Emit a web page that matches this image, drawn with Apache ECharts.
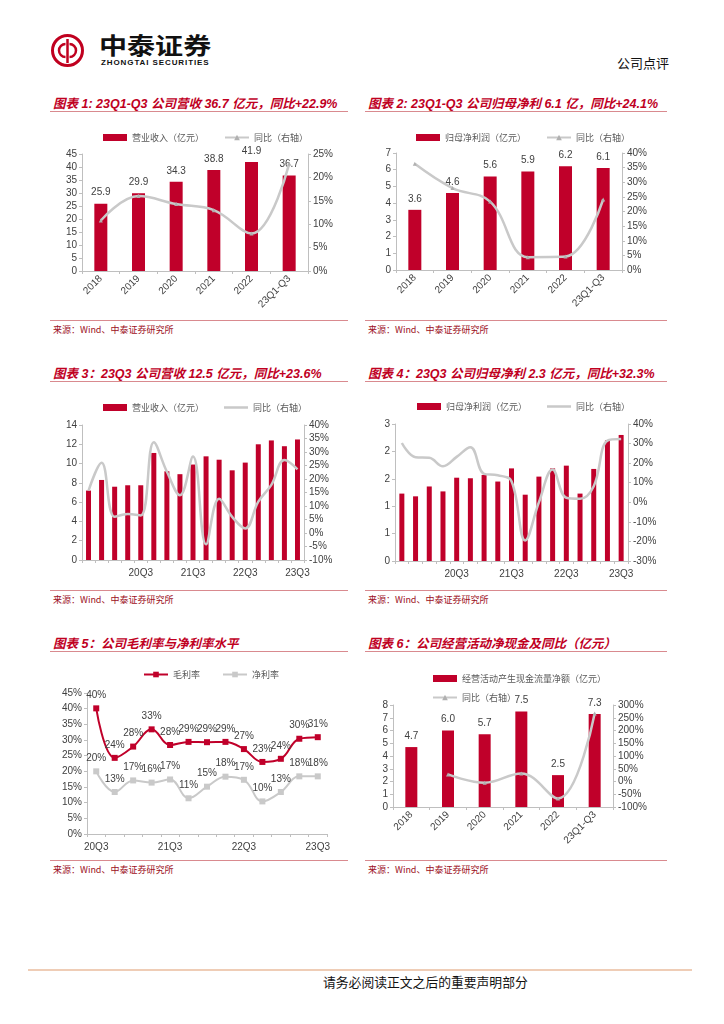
<!DOCTYPE html>
<html><head><meta charset="utf-8">
<script src="https://cdn.jsdelivr.net/npm/echarts@6/dist/echarts.min.js"></script>
<style>
body{margin:0;background:#fff;}
#page{position:relative;width:724px;height:1024px;overflow:hidden;font-family:"Liberation Sans","Noto Sans CJK SC",sans-serif;}
.abs{position:absolute;}
.title{position:absolute;font-weight:bold;font-style:italic;color:#c0001f;font-size:12.5px;white-space:nowrap;font-family:"Liberation Sans","Noto Sans CJK SC",sans-serif;}
.uline{position:absolute;height:1px;background:#d98a8f;}
.src{position:absolute;font-size:9px;color:#9c0f1d;white-space:nowrap;font-family:"Noto Sans CJK SC","Liberation Sans",sans-serif;}
.chart{position:absolute;}
</style></head>
<body><div id="page">
<svg class="abs" style="left:50px;top:33px" width="36" height="36" viewBox="0 0 36 36">
 <circle cx="17.5" cy="17.5" r="15" fill="none" stroke="#c0001f" stroke-width="3"/>
 <line x1="17.5" y1="6" x2="17.5" y2="30" stroke="#c0001f" stroke-width="2.5"/>
 <path d="M15.5 11 A6.5 6.5 0 1 0 15.5 24" fill="none" stroke="#c0001f" stroke-width="2.5"/>
 <path d="M19.5 11 A6.5 6.5 0 1 1 19.5 24" fill="none" stroke="#c0001f" stroke-width="2.5"/>
</svg>
<div class="abs" style="left:99px;top:27px;font-size:23px;font-weight:bold;color:#111;font-family:'Noto Sans CJK SC';white-space:nowrap;transform:scaleX(1.22);transform-origin:left top">中泰证券</div>
<div class="abs" style="left:101px;top:58px;font-size:8px;font-weight:bold;color:#111;letter-spacing:0.9px;white-space:nowrap;font-family:'Liberation Sans'">ZHONGTAI SECURITIES</div>
<div class="abs" style="left:617px;top:53px;font-size:13px;color:#111;font-family:'Noto Sans CJK SC';white-space:nowrap">公司点评</div>

<div class="title" style="left:53px;top:93px">图表 1: 23Q1-Q3 公司营收 36.7 亿元，同比+22.9%</div>
<div class="uline" style="left:50px;top:111px;width:298px"></div>
<div class="title" style="left:368px;top:93px">图表 2: 23Q1-Q3 公司归母净利 6.1 亿，同比+24.1%</div>
<div class="uline" style="left:365px;top:111px;width:302px"></div>
<div class="uline" style="left:50px;top:320px;width:298px"></div>
<div class="src" style="left:53px;top:323px">来源：Wind、中泰证券研究所</div>
<div class="uline" style="left:365px;top:320px;width:302px"></div>
<div class="src" style="left:368px;top:323px">来源：Wind、中泰证券研究所</div>

<div class="title" style="left:53px;top:363px">图表 3：23Q3 公司营收 12.5 亿元，同比+23.6%</div>
<div class="uline" style="left:50px;top:381px;width:298px"></div>
<div class="title" style="left:368px;top:363px">图表 4：23Q3 公司归母净利 2.3 亿元，同比+32.3%</div>
<div class="uline" style="left:365px;top:381px;width:302px"></div>
<div class="uline" style="left:50px;top:590px;width:298px"></div>
<div class="src" style="left:53px;top:593px">来源：Wind、中泰证券研究所</div>
<div class="uline" style="left:365px;top:590px;width:302px"></div>
<div class="src" style="left:368px;top:593px">来源：Wind、中泰证券研究所</div>

<div class="title" style="left:53px;top:633px">图表 5：公司毛利率与净利率水平</div>
<div class="uline" style="left:50px;top:651px;width:298px"></div>
<div class="title" style="left:368px;top:633px">图表 6：公司经营活动净现金及同比（亿元）</div>
<div class="uline" style="left:365px;top:651px;width:302px"></div>
<div class="uline" style="left:50px;top:860px;width:298px"></div>
<div class="src" style="left:53px;top:863px">来源：Wind、中泰证券研究所</div>
<div class="uline" style="left:365px;top:860px;width:302px"></div>
<div class="src" style="left:368px;top:863px">来源：Wind、中泰证券研究所</div>

<div class="abs" style="left:28px;top:969px;width:664px;height:2px;background:#efcdb6"></div>
<div class="abs" style="left:323px;top:972px;font-size:12.8px;color:#111;font-family:'Noto Sans CJK SC';white-space:nowrap">请务必阅读正文之后的重要声明部分</div>

<div id="c1" class="chart" style="left:50px;top:115px;width:300px;height:200px"></div>
<div id="c2" class="chart" style="left:365px;top:115px;width:302px;height:200px"></div>
<div id="c3" class="chart" style="left:50px;top:385px;width:300px;height:205px"></div>
<div id="c4" class="chart" style="left:365px;top:385px;width:302px;height:205px"></div>
<div id="c5" class="chart" style="left:50px;top:655px;width:300px;height:205px"></div>
<div id="c6" class="chart" style="left:365px;top:655px;width:302px;height:205px"></div>
</div>
<script>
// ---- data ----
const yearCats = ['2018','2019','2020','2021','2022','23Q1-Q3'];
const revenue = [25.9, 29.9, 34.3, 38.8, 41.9, 36.7];
const revenueYoy = [10.8, 16.0, 14.3, 13.0, 8.0, 22.9];
const netProfit = [3.6, 4.6, 5.6, 5.9, 6.2, 6.1];
const netProfitYoy = [36.3, 28.0, 23.4, 4.4, 4.6, 24.1];

const quarterCats = ['19Q3','19Q4','20Q1','20Q2','20Q3','20Q4','21Q1','21Q2','21Q3','21Q4','22Q1','22Q2','22Q3','22Q4','23Q1','23Q2','23Q3'];
const qRevenue = [7.2, 8.3, 7.6, 7.75, 7.75, 11.1, 9.2, 8.9, 9.9, 10.75, 10.4, 9.3, 10.1, 12.0, 12.4, 11.8, 12.5];
const qRevenueYoy = [15.7, 26.0, 6.0, 7.0, 6.5, 33.6, 22.7, 14.0, 28.3, -4.2, 12.7, 6.0, 1.7, 11.6, 17.8, 27.0, 23.6];
const qProfit = [1.23, 1.18, 1.36, 1.27, 1.52, 1.51, 1.57, 1.45, 1.69, 1.21, 1.54, 1.69, 1.74, 1.23, 1.68, 2.20, 2.30];
const qProfitYoy = [30.3, 23.0, 22.7, 18.4, 23.2, 28.1, 14.5, 13.8, 10.8, -19.5, 0.0, 16.7, 2.3, 1.8, 8.2, 31.5, 32.3];

const marginCats = ['20Q3','20Q4','21Q1','21Q2','21Q3','21Q4','22Q1','22Q2','22Q3','22Q4','23Q1','23Q2','23Q3'];
const grossMargin = [40.1, 24.3, 27.9, 33.4, 28.4, 29.4, 29.3, 29.4, 27.1, 23.0, 24.0, 30.4, 30.9];
const netMargin = [20.0, 13.4, 17.1, 16.4, 17.4, 11.4, 15.1, 18.3, 17.3, 10.4, 13.4, 18.4, 18.4];

const cashFlow = [4.7, 6.0, 5.7, 7.5, 2.5, 7.3];
const cashFlowYoy = [null, 27.7, -5.0, 31.6, -66.7, 267];

// ---- style helpers ----
const RED = '#c0002a', GREY = '#c9c9c9', TXT = '#404040';
const FONT = 'Liberation Sans, Noto Sans CJK SC, sans-serif';
const LFONT = 'Noto Sans CJK SC, sans-serif';
const LINE_ICON = 'path://M0,0H24V0.05H0Z M0,2.3H24V4.7H0Z M0,6.95H24V7H0Z';
const axLine = {show:true, lineStyle:{color:'#bfbfbf', width:1}};
const axTick = {show:true, length:3, lineStyle:{color:'#bfbfbf'}};
const axLbl = (extra) => Object.assign({color:TXT, fontSize:10, fontFamily:FONT}, extra||{});
const legendText = {color:'#595959', fontSize:9, fontFamily:LFONT};

function catAxis(data, lblExtra, tickExtra){
  return {type:'category', data:data, boundaryGap:true, axisLine:axLine,
    axisTick:Object.assign({}, axTick, tickExtra||{}), axisLabel:axLbl(lblExtra), splitLine:{show:false}};
}
function valAxis(min,max,interval,fmt,pos){
  return {type:'value', min:min, max:max, interval:interval, position:pos||'left',
    axisLine:axLine, axisTick:axTick, splitLine:{show:false},
    axisLabel:axLbl({formatter:fmt, margin:5})};
}
const pct = v => v + '%';

function barSeries(name, data, width, withLabel){
  return {name:name, type:'bar', data:data, barWidth:width, itemStyle:{color:RED},
    label:{show:!!withLabel, position:'top', color:TXT, fontSize:10, fontFamily:FONT, distance:6,
      formatter:p => p.value.toFixed(1)}};
}
function yoySeries(name, data, symbol){
  return {name:name, type:'line', yAxisIndex:1, data:data, smooth:0.4, connectNulls:false,
    symbol:symbol||'none', symbolSize:4, lineStyle:{color:GREY, width:2.5},
    itemStyle:{color:'#b0b0b0'}, z:5};
}
function legend(names, left, top, extra){
  return Object.assign({left:left, top:top, itemWidth:24, itemHeight:7, itemGap:20,
    textStyle:legendText, data:names}, extra||{});
}

// ---- chart 1 ----
const c1 = echarts.init(document.getElementById('c1'));
c1.setOption({animation:false,
  legend: legend([{name:'营业收入（亿元）', icon:'rect'}, {name:'同比（右轴）'}], 48, 13),
  grid:{left:32, top:39, width:226, height:117},
  xAxis: catAxis(yearCats, {rotate:45, margin:6}),
  yAxis: [valAxis(0,45,5), valAxis(0,25,5,pct,'right')],
  series:[barSeries('营业收入（亿元）', revenue, 13, true), yoySeries('同比（右轴）', revenueYoy, 'triangle')]
});

// ---- chart 2 ----
const c2 = echarts.init(document.getElementById('c2'));
c2.setOption({animation:false,
  legend: legend([{name:'归母净利润（亿元）', icon:'rect'}, {name:'同比（右轴）'}], 46, 13),
  grid:{left:31, top:38, width:226, height:117},
  xAxis: catAxis(yearCats, {rotate:45, margin:6}),
  yAxis: [valAxis(0,7,1), valAxis(0,40,5,pct,'right')],
  series:[barSeries('归母净利润（亿元）', netProfit, 13, true), yoySeries('同比（右轴）', netProfitYoy, 'triangle')]
});

// ---- chart 3 ----
const qShow = (i) => i >= 4 && (i - 4) % 4 === 0;
const c3 = echarts.init(document.getElementById('c3'));
c3.setOption({animation:false,
  legend: legend([{name:'营业收入（亿元）', icon:'rect'}, {name:'同比（右轴）', icon:LINE_ICON, itemStyle:{color:GREY}}], 48, 13),
  grid:{left:32, top:40, width:222, height:135},
  xAxis: catAxis(quarterCats, {interval:qShow, margin:8}, {interval:0}),
  yAxis: [valAxis(0,14,2), valAxis(-10,40,5,pct,'right')],
  series:[barSeries('营业收入（亿元）', qRevenue, 5, false), yoySeries('同比（右轴）', qRevenueYoy, 'none')]
});

// ---- chart 4 ----
const c4 = echarts.init(document.getElementById('c4'));
c4.setOption({animation:false,
  legend: legend([{name:'归母净利润（亿元）', icon:'rect'}, {name:'同比（右轴）', icon:LINE_ICON, itemStyle:{color:GREY}}], 47, 12),
  grid:{left:30, top:39, width:233, height:137},
  xAxis: catAxis(quarterCats, {interval:qShow, margin:8}, {interval:0}),
  yAxis: [valAxis(0,2.5,0.5,v=>String(Math.round(v))), valAxis(-30,40,10,pct,'right')],
  series:[barSeries('归母净利润（亿元）', qProfit, 5, false), yoySeries('同比（右轴）', qProfitYoy, 'none')]
});

// ---- chart 5 ----
const mShow = (i) => i % 4 === 0;
const c5 = echarts.init(document.getElementById('c5'));
const mLabel = {show:true, position:'top', distance:5, color:TXT, fontSize:10, fontFamily:FONT,
  formatter:p => Math.round(p.value) + '%'};
c5.setOption({animation:false,
  legend: legend(['毛利率','净利率'], 88, 10, {itemGap:22}),
  grid:{left:37, top:38, width:240, height:141},
  xAxis: catAxis(marginCats, {interval:mShow, margin:8}, {interval:0}),
  yAxis: valAxis(0,45,5,pct),
  series:[
    {name:'毛利率', type:'line', data:grossMargin, smooth:0.4, symbol:'rect', symbolSize:6,
      lineStyle:{color:RED, width:2}, itemStyle:{color:RED}, label:mLabel},
    {name:'净利率', type:'line', data:netMargin, smooth:0.4, symbol:'rect', symbolSize:6,
      lineStyle:{color:GREY, width:2}, itemStyle:{color:GREY}, label:mLabel}
  ]
});

// ---- chart 6 ----
const c6 = echarts.init(document.getElementById('c6'));
c6.setOption({animation:false,
  legend: legend([{name:'经营活动产生现金流量净额（亿元）', icon:'rect'}, {name:'同比（右轴）'}], 62, 14, {orient:'vertical', itemGap:10}),
  grid:{left:28, top:50, width:220, height:102},
  xAxis: catAxis(yearCats, {rotate:45, margin:6}),
  yAxis: [valAxis(0,8,1), valAxis(-100,300,50,pct,'right')],
  series:[barSeries('经营活动产生现金流量净额（亿元）', cashFlow, 12, true), yoySeries('同比（右轴）', cashFlowYoy, 'triangle')]
});
</script>
</body></html>
